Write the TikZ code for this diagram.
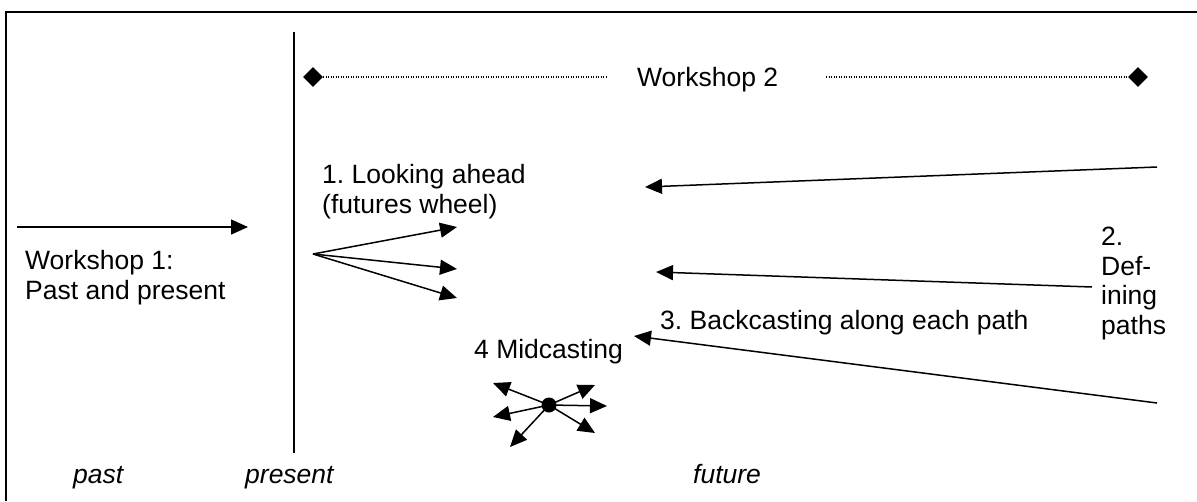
\documentclass[tikz,border=0pt]{standalone}
\usepackage{fontspec}
\setmainfont{Liberation Sans}
\frenchspacing
\usetikzlibrary{arrows.meta,shapes.geometric}
\begin{document}
\begin{tikzpicture}[x=1pt,y=-1pt,
  lbl/.style={anchor=base west,inner sep=0pt,font=\fontsize{26.5}{29.5}\selectfont,align=left},
  ital/.style={anchor=base west,inner sep=0pt,font=\fontsize{26.5}{29.5}\selectfont\itshape},
  arr/.style={line width=1.5pt,-{Triangle[length=17pt,width=15pt]}},
  marker/.style={diamond,fill=black,inner sep=0pt,minimum size=20pt},
  dots/.style={line width=1.2pt,dash pattern=on 1.2pt off 1.3pt}]
\useasboundingbox (0,0) rectangle (1197,501);
% frame
\draw[line width=2pt] (6,501) -- (6,12) -- (1197,12);
% present line
\coordinate (ptop) at (294,32);
\coordinate (pbot) at (294,453);
\draw[line width=1.5pt] (ptop) -- (pbot);
% workshop 2 bar
\node[marker] (dl) at (313,77) {};
\node[marker] (dr) at (1138,77) {};
\node[lbl] (w2) at (637,86) {Workshop 2};
\coordinate (dlend) at (608,77);
\coordinate (drstart) at (826,77);
\draw[dots] (dl.east) -- (dlend);
\draw[dots] (drstart) -- (dr.west);
% workshop 1
\coordinate (w1s) at (17,227);
\coordinate (w1e) at (248,227);
\draw[arr] (w1s) -- (w1e);
\node[lbl] (w1) at (25,299) {Workshop 1:\\Past and present};
% looking ahead
\node[lbl] (la) at (322,213) {1. Looking ahead\\(futures wheel)};
\coordinate (fo) at (313,254);
\coordinate (f1) at (457,227);
\coordinate (f2) at (457,269);
\coordinate (f3) at (457,298);
\draw[arr] (fo) -- (f1);
\draw[arr] (fo) -- (f2);
\draw[arr] (fo) -- (f3);
% paths
\coordinate (a1s) at (1157,167);
\coordinate (a1e) at (645,187);
\coordinate (a2s) at (1092,287);
\coordinate (a2e) at (656,272);
\coordinate (a3s) at (1157,403);
\coordinate (a3e) at (634,336);
\draw[arr] (a1s) -- (a1e);
\draw[arr] (a2s) -- (a2e);
\draw[arr] (a3s) -- (a3e);
\node[lbl] (dp) at (1101,334) {2.\\Def-\\ining\\paths};
\node[lbl] (bc) at (660,329) {3. Backcasting along each path};
% midcasting
\node[lbl] (mc) at (474,358) {4 Midcasting};
\node[circle,fill=black,inner sep=0pt,minimum size=15pt] (hub) at (549,405) {};
\coordinate (m1) at (493,383);
\coordinate (m2) at (493,417);
\coordinate (m3) at (510,447);
\coordinate (m4) at (595,385);
\coordinate (m5) at (607,406);
\coordinate (m6) at (595,433);
\foreach \t in {m1,m2,m3,m4,m5,m6} \draw[arr] (hub.center) -- (\t);
% axis labels
\node[ital] (past) at (73,483) {past};
\node[ital] (pres) at (245,483) {present};
\node[ital] (fut) at (693,483) {future};
\end{tikzpicture}
\end{document}
